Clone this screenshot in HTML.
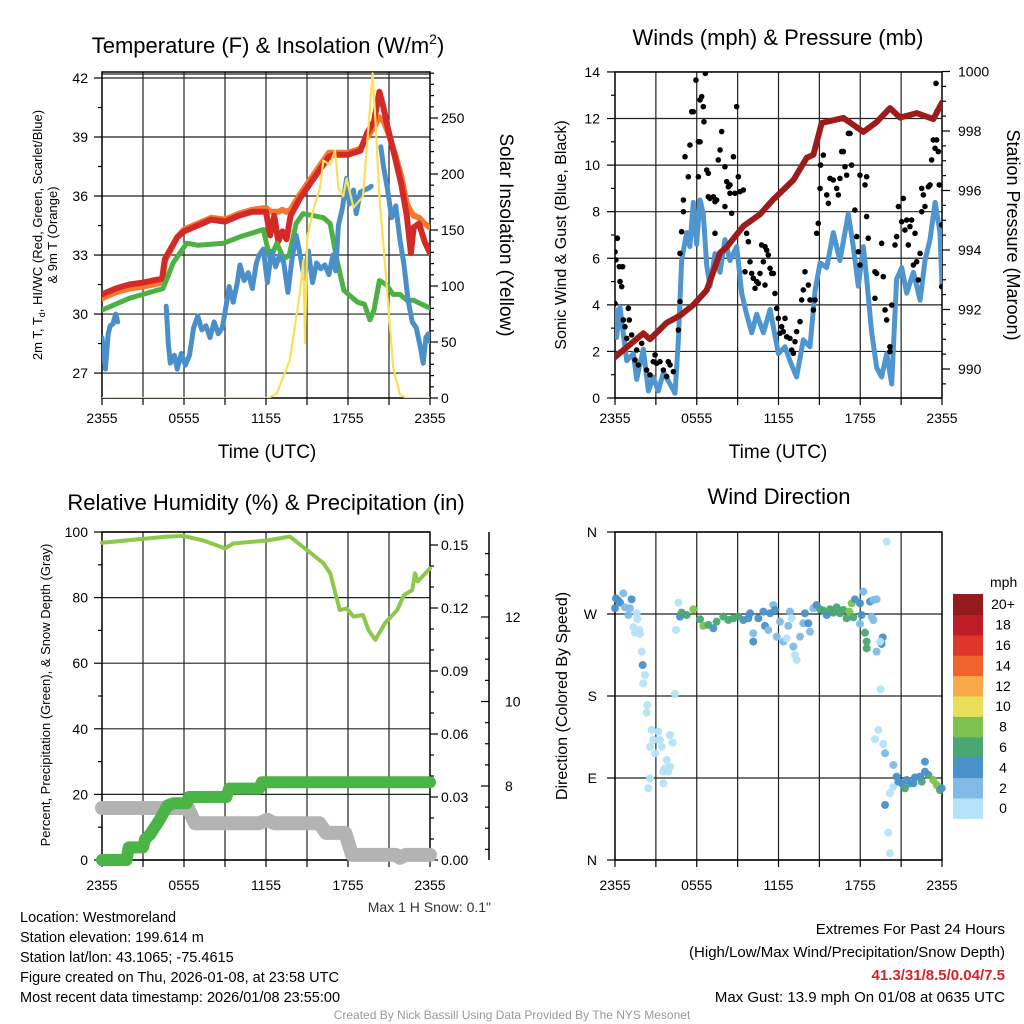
<!DOCTYPE html>
<html><head><meta charset="utf-8">
<style>
html,body{margin:0;padding:0;background:#fff;}
svg{display:block;font-family:"Liberation Sans",Arial,sans-serif;}
</style></head>
<body>
<svg id="chart" width="1024" height="1024" viewBox="0 0 1024 1024" xmlns="http://www.w3.org/2000/svg">
<defs>
<clipPath id="c1"><rect x="102" y="72" width="328" height="326"/></clipPath>
<clipPath id="c2"><rect x="615" y="72" width="327" height="326"/></clipPath>
<clipPath id="c3"><rect x="95" y="525" width="345" height="345"/></clipPath>
<clipPath id="c4"><rect x="605" y="525" width="345" height="345"/></clipPath>
</defs>
<g id="g1"></g>
<g id="g2"></g>
<g id="g3"></g>
<g id="g4"></g>

<text x="268" y="53" font-size="22" text-anchor="middle">Temperature (F) &amp; Insolation (W/m<tspan dy="-9" font-size="14">2</tspan><tspan dy="9">)</tspan></text>
<text x="778" y="45" font-size="22" text-anchor="middle">Winds (mph) &amp; Pressure (mb)</text>
<text x="266" y="510" font-size="22" text-anchor="middle">Relative Humidity (%) &amp; Precipitation (in)</text>
<text x="779" y="504" font-size="22" text-anchor="middle">Wind Direction</text>

<text x="267" y="458" font-size="19" text-anchor="middle">Time (UTC)</text>
<text x="778" y="458" font-size="19" text-anchor="middle">Time (UTC)</text>

<text transform="translate(42,235) rotate(-90)" font-size="13" text-anchor="middle">2m T, T<tspan font-size="9" dy="3">d</tspan><tspan dy="-3">, HI/WC (Red, Green, Scarlet/Blue)</tspan></text>
<text transform="translate(57,235) rotate(-90)" font-size="13" text-anchor="middle">&amp; 9m T (Orange)</text>
<text transform="translate(500,235) rotate(90)" font-size="19" text-anchor="middle">Solar Insolation (Yellow)</text>
<text transform="translate(566,235) rotate(-90)" font-size="16" text-anchor="middle">Sonic Wind &amp; Gust (Blue, Black)</text>
<text transform="translate(1007,235) rotate(90)" font-size="18" text-anchor="middle">Station Pressure (Maroon)</text>
<text transform="translate(50,695) rotate(-90)" font-size="13" text-anchor="middle">Percent, Precipitation (Green), &amp; Snow Depth (Gray)</text>
<text transform="translate(567,696) rotate(-90)" font-size="16" text-anchor="middle">Direction (Colored By Speed)</text>
<text x="491" y="912" font-size="14" text-anchor="end" fill="#333">Max 1 H Snow: 0.1"</text>

<g font-size="14.5">
<text x="20" y="922">Location: Westmoreland</text>
<text x="20" y="942">Station elevation: 199.614 m</text>
<text x="20" y="962">Station lat/lon: 43.1065; -75.4615</text>
<text x="20" y="982">Figure created on Thu, 2026-01-08, at 23:58 UTC</text>
<text x="20" y="1002">Most recent data timestamp: 2026/01/08 23:55:00</text>
</g>
<g font-size="15" text-anchor="end">
<text x="1005" y="934">Extremes For Past 24 Hours</text>
<text x="1005" y="957">(High/Low/Max Wind/Precipitation/Snow Depth)</text>
<text x="1005" y="980" fill="#d3232a" font-weight="bold">41.3/31/8.5/0.04/7.5</text>
<text x="1005" y="1002">Max Gust: 13.9 mph On 01/08 at 0635 UTC</text>
</g>
<text x="512" y="1019" font-size="12" text-anchor="middle" fill="#999">Created By Nick Bassill Using Data Provided By The NYS Mesonet</text>
</svg>
<script>
// ---------- DATA ----------
const xTickLabels = ["2355","0555","1155","1755","2355"];
const redT = [0,1,2,3,4.4,4.6,5.5,6,7,8,9,10,11,12,12.3,12.6,12.9,13.2,13.5,13.8,14.5,15,15.5,16,16.6,17,18,18.9,19.4,19.9,20.3,20.6,20.9,21.5,21.9,22.3,22.6,22.8,23.2,23.6,24];
const redV = [31,31.3,31.5,31.6,31.8,32.8,33.9,34.2,34.5,34.8,34.7,35,35.2,35.2,34,35,33.7,34.2,33.8,35,35.9,36.4,36.9,37.4,38,38.1,38.1,38.3,39.2,39.8,41.3,40.5,39.5,37.8,36.6,35,33.1,34.4,34.6,33.7,33.1];
const orangeV = [30.8,31.1,31.3,31.4,31.6,32.7,33.9,34.3,34.6,34.9,34.8,35.1,35.3,35.4,35.2,35.2,35.2,35.3,35.2,35.3,36.1,36.6,37.1,37.6,38.2,38.2,38.2,38.4,39.0,39.5,40.0,39.8,39.3,38.0,37.0,35.6,35.2,35.0,34.9,34.6,34.4];
const greenT = [0,1,2,3,4.47,5.2,6.2,7,8.9,10,11.8,12.3,12.8,13.3,13.7,14.2,14.7,15.5,16.2,16.7,17.2,17.7,18.2,18.7,19.2,19.6,19.9,20.3,20.8,21.3,21.8,22.3,22.8,23.4,24];
const greenV = [30.2,30.5,30.8,31.0,31.3,32.6,33.6,33.5,33.6,33.9,34.3,32.8,33.6,32.8,33.0,34.6,35.1,35.0,34.9,34.6,32.7,31.2,30.9,30.6,30.5,29.7,30.2,31.7,31.5,31.0,31.0,30.7,30.7,30.5,30.3];
const blueT = [0,0.25,0.45,0.6,0.8,1.0,1.15,1.3,4.7,4.85,5.0,5.3,5.5,5.8,6.1,6.4,6.7,7.0,7.3,7.6,7.9,8.2,8.5,8.8,9.1,9.3,9.6,9.9,10.1,10.4,10.7,11.0,11.3,11.5,11.8,12.1,12.4,12.7,13.0,13.3,13.6,13.9,14.2,14.5,14.8,15.1,15.4,15.7,16.0,16.3,16.6,16.9,17.1,17.3,17.6,17.9,18.1,18.4,18.6,18.9,19.2,19.5,19.7,19.9,20.4,20.6,20.9,21.2,21.5,21.8,22.1,22.4,22.7,23.0,23.3,23.5,23.7,23.9,24];
const blueV = [28.8,27.2,29.0,29.4,29.5,30.0,29.6,null,30.4,28.5,27.5,27.9,27.2,28.0,27.4,27.9,29.3,29.9,29.2,29.4,28.8,29.6,29.0,29.3,30.5,31.4,30.6,31.6,32.5,31.7,32.1,31.3,32.6,33.0,33.3,31.6,33.2,32.4,33.0,32.6,31.1,32.8,34.0,33.0,31.8,33.2,31.6,32.6,32.3,32.5,32.0,33.0,32.2,34.5,35.4,36.9,35.6,36.3,35.1,36.2,36.3,36.4,36.5,null,38.5,37.5,36.3,34.9,35.5,33.8,32.5,30.7,29.6,29.3,28.3,27.5,28.8,29.0,28.6];
const solarT = [0,12.17,12.78,13.75,14.48,14.73,14.85,15.02,15.46,15.95,16.2,16.7,17.05,17.3,17.65,17.9,18.4,19.1,19.5,19.8,20.0,20.3,20.8,21.3,21.8,22.3,24];
const solarV = [0,0,4,34,94,123,49,144,168,188,212,208,221,188,180,196,170,180,242,290,250,180,105,28,3,0,0];

const windT = [0,0.12,0.37,0.86,1.35,1.59,2.08,2.45,2.81,3.18,3.55,4.04,4.4,4.65,4.89,5.26,5.5,5.75,5.99,6.24,6.48,6.73,6.97,7.34,7.71,8.07,8.44,8.93,9.3,9.66,10.03,10.4,10.89,11.38,11.99,12.48,12.84,13.33,13.82,14.31,14.68,15.05,15.54,16.02,16.51,17.12,17.49,17.86,18.23,18.47,18.84,19.21,19.57,19.94,20.31,20.67,21.04,21.41,21.9,22.39,22.75,23.12,23.49,23.85,24];
const windV = [3.8,2.6,3.9,1.6,1.9,0.8,2.1,0.3,0.9,0.3,1.1,0.6,0.2,2.5,5.9,7.1,6.5,8.4,6.6,8.5,7.9,5.7,4.8,6.2,5.4,6.8,5.9,6.5,4.5,3.6,2.8,3.6,2.8,3.8,1.9,2.2,1.6,0.9,2.5,2.2,4.6,5.8,5.6,7.1,5.9,7.9,6.5,4.8,6.5,5.1,2.8,1.3,0.9,1.9,0.6,5.1,5.6,4.5,5.4,4.2,5.9,6.8,8.4,7.1,4.8];
const gustT = [0,0.17,0.07,0.32,0.56,0.37,0.49,0,0.98,0.61,1.05,0.73,0.86,1.22,1.59,1.47,1.96,1.71,2.32,2.57,2.94,2.81,3.06,3.3,3.55,3.91,4.04,4.28,3.79,4.65,4.77,4.77,4.89,5.02,5.02,5.14,5.38,5.5,5.63,5.75,5.94,6.12,6.24,6.24,6.36,6.48,6.53,6.63,6.12,6.73,6.85,6.85,6.97,7.22,7.34,7.46,7.58,7.71,7.83,7.34,8.07,8.2,8.32,8.44,8.44,8.07,8.56,8.69,8.81,8.93,9.05,9.17,9.42,9.66,9.79,9.54,9.91,10.03,10.15,10.4,10.52,10.28,10.64,10.76,10.89,11.01,11.13,11.25,11.38,11.01,11.5,11.62,11.74,11.87,11.99,12.11,12.23,12.35,12.48,12.6,12.84,12.97,13.09,13.21,13.33,13.58,13.7,13.82,13.94,14.19,14.31,14.56,14.68,14.8,14.92,15.05,15.09,15.29,15.54,15.66,15.78,16.02,16.27,16.39,16.51,16.64,16.76,16.88,17.0,17.13,17.25,17.37,17.61,17.74,17.86,17.98,17.98,18.35,18.47,18.47,18.59,19.08,19.2,19.57,19.69,19.08,19.82,19.94,20.18,20.18,20.31,20.55,20.67,20.8,21.04,21.16,21.28,21.41,21.53,21.65,21.77,21.9,22.02,22.14,22.26,22.39,22.51,22.63,22.75,22.51,23.0,23.12,23.24,23.36,23.49,23.61,23.73,23.8,23.98,23.98,23.56,23.61];
const gustV = [6.28,6.86,5.93,5.64,5.64,5.0,4.78,4.06,3.85,3.35,3.35,3.06,2.56,2.71,2.06,1.63,2.35,1.42,1.2,0.99,1.85,1.56,1.49,1.56,1.2,1.56,1.42,1.13,0.92,2.92,4.14,6.21,7.14,8.0,8.5,10.36,9.5,10.86,12.29,12.29,13.65,11.0,11.0,12.8,12.94,12.51,11.86,13.94,9.5,9.79,9.65,8.64,8.57,8.64,8.43,8.5,10.22,10.65,11.44,7.07,9.93,9.29,9.07,9.15,8.79,8.22,7.93,10.36,8.79,12.51,9.5,8.86,8.93,7.07,6.71,5.42,5.85,5.35,5.14,5.0,4.92,4.71,5.35,6.57,5.85,6.5,6.35,6.14,5.57,4.85,5.35,5.35,4.49,3.85,3.42,2.78,3.06,2.85,3.42,2.63,2.56,2.06,1.92,2.42,2.85,3.28,4.21,4.64,5.42,4.85,4.21,3.78,4.21,7.07,7.5,9.0,10.0,10.43,8.72,8.36,9.43,9.36,9.0,8.72,9.43,10.58,10.58,9.93,9.57,11.36,11.36,10.0,8.07,6.93,6.28,5.71,9.57,9.15,9.5,7.79,6.86,5.42,5.35,6.64,5.21,4.28,3.78,3.35,2.2,1.99,3.99,6.57,6.93,8.22,7.57,8.57,7.21,7.64,6.57,7.36,7.64,5.71,7.07,5.85,5.07,6.21,8.0,8.72,8.22,9.0,9.07,9.15,10.22,11.08,10.72,11.08,10.58,9.15,7.43,4.78,13.51,12.29];
const presT = [0,2.08,2.57,3.79,4.77,5.75,6.73,7.71,8.2,9.42,10.64,11.62,13.09,14.07,14.56,15.17,16.76,18.23,19.2,20.18,20.92,22.14,23.36,24];
const presV = [990.4,991.2,991.0,991.55,991.8,992.15,992.65,993.9,994.1,994.8,995.2,995.7,996.35,997.1,997.2,998.27,998.44,997.97,998.3,998.77,998.45,998.6,998.4,998.95];

const rhT = [0,4.73,5.95,7.41,9.0,9.6,12.05,13.75,14.7,16.2,16.7,17.4,17.9,18.4,19.1,19.5,20.0,20.7,21.6,22.1,22.7,22.9,23.1,24];
const rhV = [96.7,98.6,98.8,97.4,95.0,96.5,97.4,98.6,95.5,90.5,87.4,76.2,76.7,74.2,74.7,70.1,67.1,72.2,76.2,80.8,82.3,87.4,84.9,88.9];
const precipT = [0,1.8,1.95,3.0,3.15,3.5,4.2,4.8,5.2,6.2,6.35,9.1,9.3,11.5,11.7,24];
const precipV = [0,0,0.006,0.006,0.01,0.012,0.019,0.026,0.027,0.027,0.03,0.03,0.034,0.034,0.037,0.037];
const snowT = [0,6.3,6.8,11.5,12.1,12.6,15.9,16.4,17.8,18.3,21.5,21.8,22.2,24];
const snowV = [7.48,7.48,7.12,7.12,7.2,7.12,7.12,6.89,6.89,6.37,6.37,6.3,6.37,6.37];

const dirT = [0,0.07,0.24,0.61,0.37,0.73,1.1,1.22,0.98,1.59,1.64,1.35,1.47,1.79,1.83,1.96,2.03,2.2,2.08,2.37,2.32,2.69,2.81,3.18,3.3,2.57,2.94,3.43,4.04,4.23,3.79,3.67,4.04,3.55,3.91,2.57,2.45,3.55,4.4,4.65,4.48,4.77,4.89,5.26,5.75,6.24,6.48,6.85,7.22,7.46,7.95,8.32,8.69,9.05,9.42,9.79,9.91,10.15,10.15,10.52,10.89,11.01,11.25,11.38,11.62,11.74,11.87,12.11,12.35,12.6,12.72,12.84,12.97,13.09,13.21,13.33,13.58,13.82,13.94,14.19,14.31,14.56,14.8,15.05,15.29,15.54,15.78,16.02,16.27,16.51,16.76,17.0,17.2,17.37,17.49,17.61,17.98,18.23,18.1,18.35,18.47,18.47,17.98,18.72,18.96,19.2,18.84,18.96,19.65,19.57,19.2,19.45,19.5,19.94,19.33,19.08,19.69,19.82,20.43,20.67,21.04,21.28,21.65,22.02,22.51,22.75,23.0,23.36,23.61,23.85,23.98,20.43,20.18,19.82,20.06,20.18,20.8,21.41,21.9,22.39,22.75];
const dirV = [276.3,287.2,284.7,292.7,282.5,277.3,276.3,286.1,268.9,270.8,264.5,255.4,249.5,252.5,248.1,228.7,214.0,203.1,193.9,170.1,161.7,142.7,131.7,140.9,131.7,124.4,117.1,124.4,137.2,128.8,109.8,100.6,102.4,97.0,97.0,89.6,78.7,84.2,182.2,282.5,252.5,267.1,271.5,268.9,275.2,264.2,256.9,258.0,254.3,261.6,267.1,263.4,265.3,267.1,263.4,265.3,270.8,248.8,239.7,265.3,272.6,256.9,252.5,270.8,279.9,274.4,245.1,261.6,239.7,243.3,256.9,272.6,265.3,234.2,225.0,219.5,245.1,259.8,270.8,259.8,250.6,276.3,279.9,275.2,273.7,268.9,275.2,271.5,277.3,270.8,274.4,265.3,272.6,281.7,266.4,286.1,281.7,294.5,268.9,249.5,239.7,232.3,259.1,283.6,285.4,286.1,267.1,263.4,244.4,237.1,228.7,239.7,187.3,349.4,142.7,132.5,127.3,117.1,104.3,91.5,84.2,78.7,84.2,90.7,86.0,107.9,93.3,87.8,82.3,76.8,78.7,80.5,73.2,60.4,30.0,7.3,86.0,87.8,84.2,91.5,97.0];
const dirSpd = [5,5,5,3,4.5,3,3,4.5,3,1,1.5,1,1,1,1,1,4.5,1,1,1,1,1,1,1,1,1,1,1,1,1,1,1,1,1,1,1,1,1,1,1,1,4,6.5,6.5,8,7,8,6.5,4.5,6.5,6.5,6.5,6.5,6.5,5,4,5,3,4.5,4.5,4.5,4.5,3,4.5,3,4.5,3,3,3,1.5,3,3,1.5,3,1,1,3,3,4.5,4.5,3,3,4.5,6.5,6.5,4.5,6.5,6.5,6.5,6.5,6.5,6.5,8,8,6.5,4.5,4.5,3,4.5,6.5,6.5,6.5,3,4.5,3,3,2.5,2.5,4.5,4.5,3,1,1,1,1,1,1,3,3,4,5,6.5,4.5,4.5,6.5,4.5,6.5,8,8,6.5,4.5,1,1,4,1,1,4.5,5,4,5,4.5];
const speedBins = ["0","2","4","6","8","10","12","14","16","18","20+"];
const speedColors = ["#b5e2f7","#7fbbe6","#4a90c9","#4aa673","#7dc24e","#e8e05a","#f8aa48","#f0632b","#e0352b","#bc1d27","#951a1e"];

// ---------- HELPERS ----------
const NS="http://www.w3.org/2000/svg";
function mk(parent,tag,attrs){const e=document.createElementNS(NS,tag);for(const k in attrs)e.setAttribute(k,attrs[k]);parent.appendChild(e);return e;}
function pathFrom(ts,vs,sx,sy){let d="",pen=false;for(let i=0;i<ts.length;i++){if(vs[i]===null){pen=false;continue;}d+=(pen?"L":"M")+sx(ts[i]).toFixed(1)+","+sy(vs[i]).toFixed(1);pen=true;}return d;}
function stepFrom(ts,vs,sx,sy){let d="";for(let i=0;i<ts.length;i++){const x=sx(ts[i]).toFixed(1),y=sy(vs[i]).toFixed(1);d+=(i?"L":"M")+x+","+y;}return d;}

function frame(g,L,T,R,B,labOff){
  const sx=t=>L+t*(R-L)/24;
  for(let h=3;h<24;h+=3){
    const ln=mk(g,"line",{x1:sx(h),x2:sx(h),y1:T,y2:B,stroke:"#222","stroke-width":1.2});
    
    
  }
  for(let h=0;h<=24;h+=3){
    const tk=mk(g,"line",{x1:sx(h),x2:sx(h),y1:B,y2:B+7,stroke:"#000","stroke-width":1.2});
    
    
  }
  xTickLabels.forEach((lab,i)=>{
    const tx=mk(g,"text",{x:sx(i*6),y:B+labOff,"font-size":14,"text-anchor":"middle"});
    tx.textContent=lab;
    
    
  });
  return sx;
}
function hgrid(g,L,R,y){const ln=mk(g,"line",{x1:L,x2:R,y1:y,y2:y,stroke:"#222","stroke-width":1.2});
  
  }
function border(g,L,T,R,B){const r=mk(g,"rect",{x:L,y:T,width:R-L,height:B-T,fill:"none",stroke:"#000","stroke-width":1.5});
  
  }
function yTick(g,x,y,len,label,lx,anchor){
  mk(g,"line",{x1:x,x2:x+len,y1:y,y2:y,stroke:"#000","stroke-width":1.2});
  if(label!==null){const t=mk(g,"text",{x:lx,y:y+5,"font-size":14,"text-anchor":anchor});t.textContent=label;
    
    }
}

// ---------- PANEL 1 ----------
(function(){
  const g=document.getElementById("g1");const L=102,T=72,R=430,B=398;
  const sy=v=>78+(42-v)*19.67; const ss=w=>398-w*1.12;
  const sx=frame(g,L,T,R,B,25);
  for(let v=27;v<=42;v+=3){hgrid(g,L,R,sy(v));yTick(g,L,sy(v),-8,String(v),88,"end");}
  for(let v=25.5;v<=42.5;v+=3){if(sy(v)>T&&sy(v)<B)yTick(g,L,sy(v),-4,null);}
  hgrid(g,L,R,74);
  for(let w=0;w<=290;w+=10){yTick(g,R,ss(w),w%50===0?8:4,w%50===0?String(w):null,441,"start");}
  border(g,L,T,R,B);
  const c=mk(g,"g",{"clip-path":"url(#c1)",fill:"none","stroke-linejoin":"round","stroke-linecap":"round"});
  const po=mk(c,"path",{d:pathFrom(redT,orangeV,sx,sy),stroke:"#f4792f","stroke-width":6});
  
  
  const pr=mk(c,"path",{d:pathFrom(redT,redV,sx,sy),stroke:"#d42a27","stroke-width":6});
  
  
  const pg=mk(c,"path",{d:pathFrom(greenT,greenV,sx,sy),stroke:"#4bb143","stroke-width":5});
  
  
  const pb=mk(c,"path",{d:pathFrom(blueT,blueV,sx,sy),stroke:"#4b8fca","stroke-width":5});
  
  
  const py=mk(c,"path",{d:pathFrom(solarT,solarV,sx,ss),stroke:"#f8e05a","stroke-width":2.2});
  
  
})();

// ---------- PANEL 2 ----------
(function(){
  const g=document.getElementById("g2");const L=615,T=72,R=942,B=398;
  const sy=w=>398-w*23.29; const sp=p=>71.5+(1000-p)*29.75;
  const sx=frame(g,L,T,R,B,25);
  for(let w=0;w<=14;w+=1){if(w%2===0){hgrid(g,L,R,sy(w));yTick(g,L,sy(w),-8,String(w),600,"end");}else yTick(g,L,sy(w),-4,null);}
  for(let p=989.5;p<=1000;p+=0.5){const maj=Math.abs(p%2)<0.01;yTick(g,R,sp(p),maj?8:4,maj?String(p):null,958,"start");}
  border(g,L,T,R,B);
  const c=mk(g,"g",{"clip-path":"url(#c2)",fill:"none","stroke-linejoin":"round","stroke-linecap":"round"});
  const pw=mk(c,"path",{d:pathFrom(windT,windV,sx,sy),stroke:"#4f96d0","stroke-width":5});
  
  
  gustT.forEach((t,i)=>{
    const d=mk(c,"circle",{cx:sx(t),cy:sy(gustV[i]),r:2.8,fill:"#000"});
    
    
  });
  const pp=mk(c,"path",{d:pathFrom(presT,presV,sx,sp),stroke:"#9c1c1c","stroke-width":6});
  
  
})();

// ---------- PANEL 3 ----------
(function(){
  const g=document.getElementById("g3");const L=102,T=532,R=430,B=860;
  const sy=v=>860-v*3.28; const sp=v=>860-v*2100; const ss=v=>786-(v-8)*42.25;
  const sx=frame(g,L,T,R,B,30);
  for(let v=0;v<=100;v+=10){if(v%20===0){hgrid(g,L,R,sy(v));yTick(g,L,sy(v),-8,String(v),88,"end");}else yTick(g,L,sy(v),-4,null);}
  for(let i=0;i<=15;i++){const v=i/100;const maj=i%3===0;yTick(g,R,sp(v),maj?8:4,maj?v.toFixed(2):null,441,"start");}
  mk(g,"line",{x1:489,x2:489,y1:532,y2:860,stroke:"#000","stroke-width":1.5});
  for(let v=6.5;v<=13.5;v+=0.5){const y=ss(v);if(y<532||y>860)continue;const maj=Math.abs(v%2)<0.01;yTick(g,489,y,maj?-8:-4,maj?String(v):null,505,"start");}
  border(g,L,T,R,B);
  const c=mk(g,"g",{"clip-path":"url(#c3)",fill:"none","stroke-linejoin":"round","stroke-linecap":"round"});
  const sn=mk(c,"path",{d:stepFrom(snowT,snowV,sx,ss),stroke:"#b3b3b3","stroke-width":14});
  
  
  const pr=mk(c,"path",{d:stepFrom(precipT,precipV,sx,sp),stroke:"#4bb447","stroke-width":12});
  
  
  const rh=mk(c,"path",{d:pathFrom(rhT,rhV,sx,sy),stroke:"#8dc84c","stroke-width":4});
  
  
})();

// ---------- PANEL 4 ----------
(function(){
  const g=document.getElementById("g4");const L=615,T=532,R=942,B=860;
  const sy=d=>860-d*(328/360);
  const sx=frame(g,L,T,R,B,30);
  const dl=["N","E","S","W","N"];
  for(let i=0;i<=4;i++){hgrid(g,L,R,sy(i*90));yTick(g,L,sy(i*90),-8,dl[i],597,"end");}
  border(g,L,T,R,B);
  const c=mk(g,"g",{"clip-path":"url(#c4)"});
  dirT.forEach((t,i)=>{
    const bin=Math.min(10,Math.floor(dirSpd[i]/2));
    const d=mk(c,"circle",{cx:sx(t),cy:sy(dirV[i]),r:4,fill:speedColors[bin],"fill-opacity":0.95});
    
    
  });
  const cb=mk(g,"g",{});
  
  
  const top=594,h=20.4;
  const ut=mk(cb,"text",{x:990,y:587,"font-size":14});ut.textContent="mph";
  for(let i=0;i<11;i++){
    const y=top+(10-i)*h;
    const r=mk(cb,"rect",{x:953,y:y,width:30,height:h+0.5,fill:speedColors[i]});
    
    
    const t=mk(cb,"text",{x:1003,y:y+h/2+5,"font-size":14,"text-anchor":"middle"});t.textContent=speedBins[i];
    
    
  }
})();
</script>
</body></html>
